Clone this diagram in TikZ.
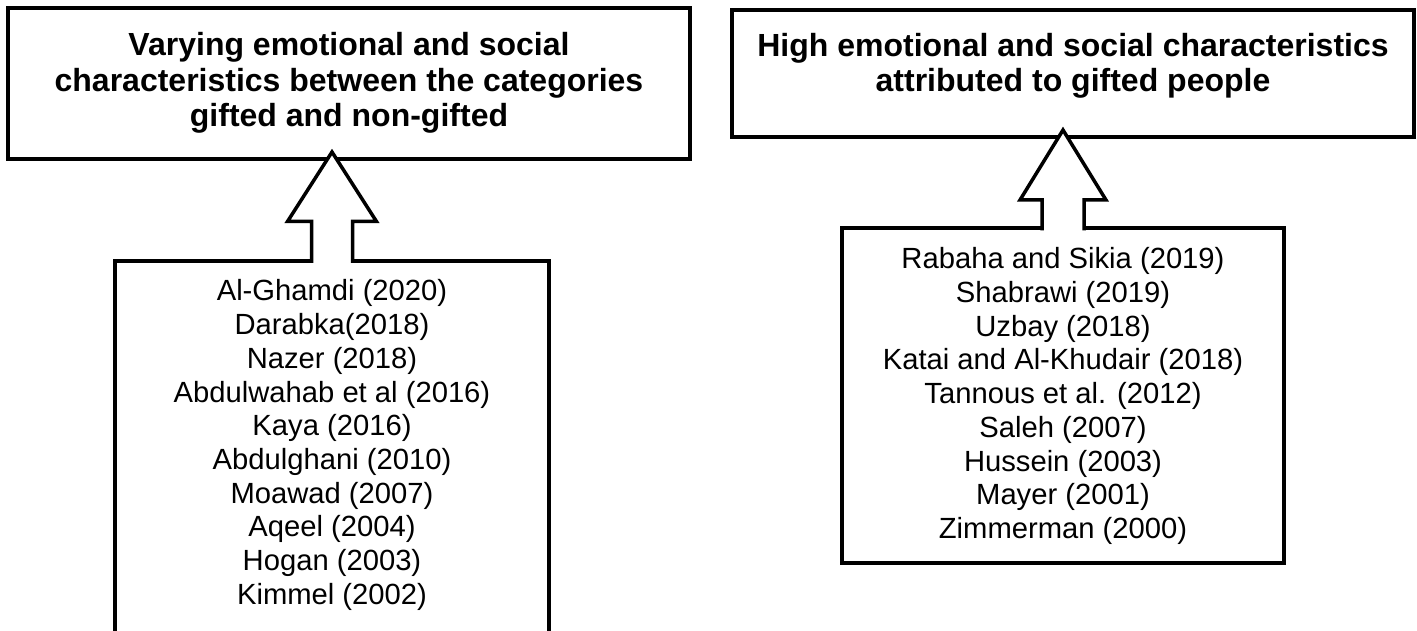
\documentclass[tikz,border=0pt]{standalone}
\usepackage{fontspec}
\setmainfont{Liberation Sans}
\usetikzlibrary{calc}
\newcommand{\titlesize}{\fontsize{32}{35.5}\selectfont\bfseries}
\newcommand{\listsize}{\fontsize{29.2}{33.7}\selectfont}
\begin{document}
\begin{tikzpicture}[x=1pt,y=1pt,
  box/.style={draw, line width=4pt, inner sep=0pt, outer sep=0pt},
  blockarrow/.style={draw, fill=white, line width=3.5pt, line join=miter}]
\useasboundingbox (0,0) rectangle (1417,-631);
% top boxes
\node[box] (lt) at (349,-83.5) {\parbox[c][151pt][t]{682pt}{\centering\titlesize\vspace*{23pt}\strut Varying emotional and social\\ characteristics between the categories\\ gifted and non-gifted}};
\node[box] (rt) at (1073,-73.5) {\parbox[c][127pt][t]{682pt}{\centering\titlesize\vspace*{21.5pt}\strut High emotional and social characteristics\\ attributed to gifted people}};
% bottom boxes
\node[box] (lb) at (332,-480.5) {\parbox[c][439pt][t]{434pt}{\centering\listsize\vspace*{16.4pt}\strut Al-Ghamdi (2020)\\ Darabka(2018)\\ Nazer (2018)\\ Abdulwahab et al (2016)\\ Kaya (2016)\\ Abdulghani (2010)\\ Moawad (2007)\\ Aqeel (2004)\\ Hogan (2003)\\ Kimmel (2002)}};
\node[box] (rb) at (1063,-395.65) {\parbox[c][334.7pt][t]{442pt}{\centering\listsize\vspace*{17pt}\strut Rabaha and Sikia (2019)\\ Shabrawi (2019)\\ Uzbay (2018)\\ Katai and Al-Khudair (2018)\\ Tannous et al. (2012)\\ Saleh (2007)\\ Hussein (2003)\\ Mayer (2001)\\ Zimmerman (2000)}};
% block arrows
\coordinate (ltip) at ($(lb.north |- lt.south)+(0,7)$);
\coordinate (rtip) at ($(rb.north |- rt.south)+(0,7)$);
\draw[blockarrow] ($(lb.north)+(-20.5,-2)$) |- ($(ltip)+(-44.5,-69.5)$) -- (ltip) -- ($(ltip)+(44.5,-69.5)$) -| ($(lb.north)+(20.5,-2)$);
\draw[blockarrow] ($(rb.north)+(-21,-2)$) |- ($(rtip)+(-43,-70)$) -- (rtip) -- ($(rtip)+(43,-70)$) -| ($(rb.north)+(21,-2)$);
\end{tikzpicture}
\end{document}
